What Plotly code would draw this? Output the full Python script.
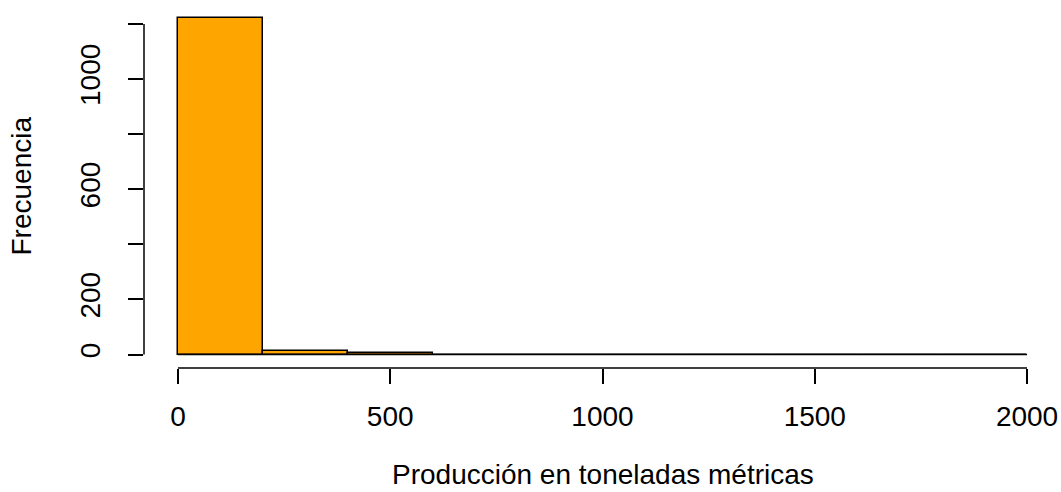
import plotly.graph_objects as go

bin_edges = [0, 200, 400, 600, 800, 1000, 1200, 1400, 1600, 1800, 2000]
counts = [1220, 12, 5, 0, 0, 0, 0, 0, 0, 0]
x_ticks = [0, 500, 1000, 1500, 2000]
x_tick_labels = ["0", "500", "1000", "1500", "2000"]
y_ticks = [0, 200, 400, 600, 800, 1000, 1200]
# R drops labels that would overlap: only these are shown
y_tick_labels = ["0", "200", "", "600", "", "1000", ""]

centers = [(a + b) / 2 for a, b in zip(bin_edges[:-1], bin_edges[1:])]
widths = [b - a for a, b in zip(bin_edges[:-1], bin_edges[1:])]

FONT = "Liberation Sans, Arial, sans-serif"

fig = go.Figure()
fig.add_trace(go.Bar(
    x=centers, y=counts, width=widths,
    marker=dict(color="#FFA500", line=dict(color="black", width=1.5)),
    hoverinfo="x+y",
))

xmin, xmax = bin_edges[0], bin_edges[-1]
xpad = 0.04 * (xmax - xmin)
ymax = max(counts)
ypad = 0.04 * ymax

fig.update_layout(
    width=1061, height=492,
    margin=dict(l=144, r=0, t=5, b=123.5),
    plot_bgcolor="white", paper_bgcolor="white",
    showlegend=False,
    bargap=0,
    font=dict(family=FONT, size=28, color="black"),
    xaxis=dict(
        range=[xmin - xpad, xmax + xpad],
        tickvals=x_ticks, ticktext=x_tick_labels,
        ticks="outside", ticklen=15, tickwidth=1.5, tickcolor="black",
        showgrid=False, zeroline=False, showline=False,
        automargin=False,
        ticklabelstandoff=8,
    ),
    yaxis=dict(
        range=[-ypad, ymax + ypad],
        tickvals=y_ticks, ticktext=y_tick_labels,
        tickangle=-90,
        ticks="outside", ticklen=15, tickwidth=1.5, tickcolor="black",
        showgrid=False, zeroline=False, showline=False,
        automargin=False,
        ticklabelstandoff=17,
    ),
)

# axis lines spanning only the tick range, like R base graphics
fig.add_shape(type="line", xref="x", yref="paper", x0=x_ticks[0], x1=x_ticks[-1],
              y0=0, y1=0, line=dict(color="black", width=1.5))
fig.add_shape(type="line", xref="paper", yref="y", x0=0, x1=0,
              y0=y_ticks[0], y1=y_ticks[-1], line=dict(color="black", width=1.5))
# zero-height bins are drawn as a flat outline along the baseline (as R's hist does)
fig.add_shape(type="line", xref="x", yref="y", x0=xmin, x1=xmax, y0=0, y1=0,
              line=dict(color="black", width=1.5))

fig.add_annotation(text="Producción en toneladas métricas", xref="paper", yref="paper",
                   x=0.5, y=0, xanchor="center", yanchor="middle", yshift=-106.5,
                   showarrow=False, font=dict(family=FONT, size=28, color="black"))
fig.add_annotation(text="Frecuencia", xref="paper", yref="paper",
                   x=0, y=0.5, xanchor="center", yanchor="middle", xshift=-123,
                   textangle=-90, showarrow=False,
                   font=dict(family=FONT, size=28, color="black"))

fig.write_html("out.html",
               config={"displayModeBar": False},
               post_script="document.body.style.margin='0';document.body.style.overflow='hidden';")
